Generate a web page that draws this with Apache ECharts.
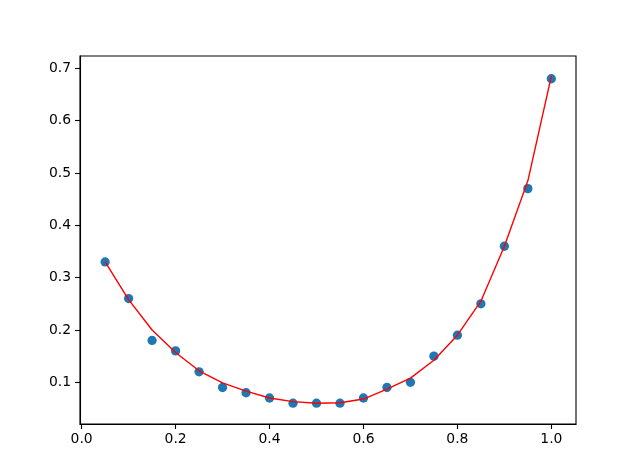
<!DOCTYPE html>
<html>
<head>
<meta charset="utf-8">
<script src="https://cdn.jsdelivr.net/npm/echarts@6/dist/echarts.min.js"></script>
<style>
html,body{margin:0;padding:0;background:#fff;}
#chart{width:640px;height:476px;}
</style>
</head>
<body>
<div id="chart"></div>
<script>
const xValues = [0.05,0.10,0.15,0.20,0.25,0.30,0.35,0.40,0.45,0.50,0.55,0.60,0.65,0.70,0.75,0.80,0.85,0.90,0.95,1.00];
const pointValues = [0.33,0.26,0.18,0.16,0.12,0.09,0.08,0.07,0.06,0.06,0.06,0.07,0.09,0.10,0.15,0.19,0.25,0.36,0.47,0.68];
const fitValues = [0.330,0.258,0.200,0.157,0.122,0.099,0.083,0.070,0.063,0.060,0.061,0.068,0.087,0.108,0.142,0.190,0.255,0.360,0.485,0.685];
const xTicks = [0.0,0.2,0.4,0.6,0.8,1.0];
const yTicks = [0.1,0.2,0.3,0.4,0.5,0.6,0.7];

const pointData = xValues.map((x,i)=>[x,pointValues[i]]);
const fitData = xValues.map((x,i)=>[x,fitValues[i]]);

const chart = echarts.init(document.getElementById('chart'), null, {renderer:'canvas'});
const font = {fontFamily:'DejaVu Sans', fontSize:13.9, color:'#000'};
chart.setOption({
  backgroundColor:'#fff',
  animation:false,
  grid:{left:80,right:64,top:56,bottom:52,show:true,borderColor:'#000',borderWidth:1.1,backgroundColor:'transparent'},
  xAxis:{
    type:'value', min:-0.0035, max:1.0525,
    axisLine:{show:true,onZero:false,lineStyle:{color:'#000',width:1.1}},
    axisTick:{show:true,length:5,lineStyle:{color:'#000',width:1.1},customValues:xTicks},
    axisLabel:Object.assign({margin:8,customValues:xTicks,formatter:v=>v.toFixed(1)},font),
    splitLine:{show:false}
  },
  yAxis:{
    type:'value', min:0.0203, max:0.7235,
    axisLine:{show:true,onZero:false,lineStyle:{color:'#000',width:1.1}},
    axisTick:{show:true,length:5,lineStyle:{color:'#000',width:1.1},customValues:yTicks},
    axisLabel:Object.assign({margin:9,customValues:yTicks,formatter:v=>v.toFixed(1)},font),
    splitLine:{show:false}
  },
  series:[
    {type:'scatter',data:pointData,symbol:'circle',symbolSize:9.3,itemStyle:{color:'#1f77b4',opacity:1},z:2},
    {type:'line',data:fitData,symbol:'none',lineStyle:{color:'#ff0000',width:1.4},z:3}
  ]
});
</script>
</body>
</html>
